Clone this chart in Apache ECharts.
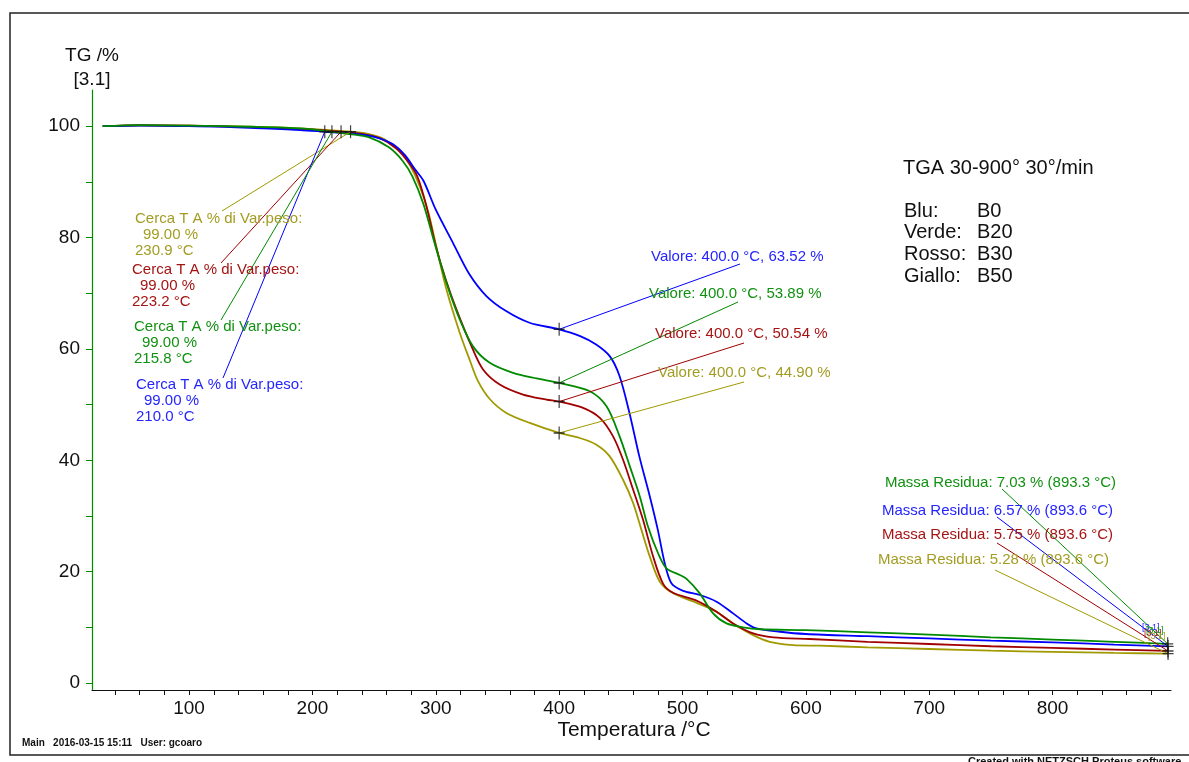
<!DOCTYPE html>
<html>
<head>
<meta charset="utf-8">
<script src="https://cdn.jsdelivr.net/npm/echarts@6/dist/echarts.min.js"></script>
<style>
html,body{margin:0;padding:0;background:#fff;}
#chart{width:1189px;height:762px;}
</style>
</head>
<body>
<div id="chart"></div>
<script>
// ---- data ----
const blueT = [30, 60, 100, 130, 160, 190, 210, 230, 250, 265, 275, 283, 290, 300, 314, 327, 341, 357, 376, 400, 417, 430, 441, 449, 457, 465, 473.5, 480, 485.6, 491, 500, 514, 527.6, 541, 552, 560, 579, 600, 650, 700, 750, 800, 850, 893.6];
const blueW = [100.0, 100.1, 100.0, 99.9, 99.6, 99.3, 99.0, 98.7, 98.1, 96.8, 94.8, 92.3, 90.2, 85.0, 79.0, 73.5, 69.5, 66.8, 64.7, 63.52, 62.3, 60.8, 58.7, 55.1, 48.5, 40.7, 33.5, 27.5, 21.5, 17.9, 16.6, 15.8, 14.6, 12.5, 10.7, 9.8, 9.2, 8.8, 8.4, 8.0, 7.6, 7.3, 6.9, 6.57];

const greenT = [30, 60, 100, 150, 190, 215.8, 230, 246, 262, 273, 281, 290, 299, 308.6, 319.4, 330, 343.7, 362.6, 381.6, 400, 424.8, 438.4, 449, 457.3, 465.4, 472, 480.2, 487, 497.8, 503.3, 514, 524.8, 535.7, 549, 563, 600, 650, 700, 750, 800, 850, 893.3];
const greenW = [100.0, 100.2, 100.1, 99.9, 99.6, 99.0, 98.6, 98.0, 96.2, 93.8, 91.0, 86.0, 79.0, 71.9, 65.3, 60.5, 57.5, 55.7, 54.7, 53.89, 52.4, 49.7, 44.3, 38.9, 33.5, 28.1, 23.3, 20.6, 19.4, 18.7, 16.1, 12.5, 10.7, 10.0, 9.65, 9.5, 9.1, 8.7, 8.2, 7.8, 7.4, 7.03];

const redT = [30, 60, 100, 150, 190, 223.2, 240, 255, 268, 278, 285, 292, 300, 308, 316.7, 328.9, 338.3, 351.8, 370.7, 389.7, 400, 419.4, 433, 443.7, 451.8, 460, 468, 476.2, 484.3, 492.4, 511.4, 527.6, 541, 557.3, 573.5, 603, 650, 700, 750, 800, 850, 893.6];
const redW = [100.0, 100.2, 100.1, 99.8, 99.5, 99.0, 98.6, 97.8, 96.0, 93.5, 91.0, 86.0, 78.5, 72.5, 67.1, 60.5, 56.3, 53.6, 51.8, 50.9, 50.54, 49.4, 47.6, 44.3, 40.1, 34.7, 29.3, 22.7, 17.8, 16.2, 14.8, 12.8, 10.7, 8.9, 8.2, 7.9, 7.4, 7.0, 6.6, 6.3, 6.0, 5.75];

const yellowT = [30, 60, 100, 150, 190, 230.9, 245, 258, 270, 279, 287, 294, 300, 308.6, 319.4, 327.5, 334, 343.7, 357.2, 376.2, 400, 416.7, 430.2, 441, 451.8, 460, 466.7, 473.5, 481.6, 492.4, 511.4, 527.6, 541, 557.3, 570.8, 589.7, 611, 650, 700, 750, 800, 850, 893.6];
const yellowW = [100.0, 100.1, 100.1, 99.9, 99.6, 99.0, 98.6, 97.7, 95.8, 93.0, 89.2, 84.5, 78.8, 70.7, 62.9, 58.0, 54.3, 51.0, 48.5, 46.7, 44.90, 44.0, 42.8, 40.7, 36.5, 32.3, 27.5, 22.7, 18.2, 16.1, 14.4, 12.8, 10.7, 8.6, 7.4, 6.8, 6.7, 6.4, 6.1, 5.8, 5.6, 5.4, 5.28];

// annotation values: order blue, green, red, yellow
const onsetTemps = [210.0, 215.8, 223.2, 230.9];
const onsetMass = 99.00;
const value400 = [63.52, 53.89, 50.54, 44.90];
const residueMass = [6.57, 7.03, 5.75, 5.28];
const residueTemp = [893.6, 893.3, 893.6, 893.6];

const xTickLabels = [100, 200, 300, 400, 500, 600, 700, 800];
const yTickLabels = [0, 20, 40, 60, 80, 100];
const legendRows = [['Blu:', 'B0'], ['Verde:', 'B20'], ['Rosso:', 'B30'], ['Giallo:', 'B50']];

// ---- styles / positions ----
const FONT = "'Liberation Sans', Arial, sans-serif";
const lineCol = ['#0000ff', '#008a00', '#a00000', '#a09a00'];
const textCol = ['#2424ff', '#119111', '#a51414', '#a39c22'];
const seriesT = [blueT, greenT, redT, yellowT];
const seriesW = [blueW, greenW, redW, yellowW];
const names = ['B0', 'B20', 'B30', 'B50'];

// annotation anchor positions (pixels)
const onsetText = [[136, 385], [134, 327], [132, 270], [135, 219]];
const onsetAnchor = [[223, 378], [221, 320], [221, 263], [222, 211]];
const v400Text = [[651, 257], [649, 294], [655, 334], [658, 373]];
const v400Anchor = [[740, 264], [738, 302], [744, 343], [744, 382]];
const resText = [[882, 511], [885, 483], [882, 535], [878, 560]];
const resAnchor = [[997, 517], [1002, 489], [997, 543], [995, 570]];

function range(a, b, s) { const r = []; for (let v = a; v <= b + 1e-9; v += s) r.push(v); return r; }

const chart = echarts.init(document.getElementById('chart'));

const series = [];
const drawOrder = [3, 2, 0, 1];
drawOrder.forEach(i => {
  const idx = seriesT[i];
  series.push({
    name: names[i],
    type: 'line',
    data: idx.map((t, k) => [t, seriesW[i][k]]),
    showSymbol: false,
    smooth: 0.3,
    lineStyle: { color: lineCol[i], width: 1.8 },
    itemStyle: { color: lineCol[i] },
    z: 3,
    markLine: {
      silent: true,
      symbol: ['none', 'none'],
      label: { show: false },
      lineStyle: { color: lineCol[i], width: 1, type: 'solid' },
      data: [
        [{ coord: [onsetTemps[i], onsetMass] }, { x: onsetAnchor[i][0], y: onsetAnchor[i][1] }],
        [{ coord: [400, value400[i]] }, { x: v400Anchor[i][0], y: v400Anchor[i][1] }],
        [{ coord: [residueTemp[i], residueMass[i]] }, { x: resAnchor[i][0], y: resAnchor[i][1] }]
      ],
      animation: false
    }
  });
});

// cross markers
const crossPts = [];
for (let i = 0; i < 4; i++) {
  crossPts.push([onsetTemps[i], onsetMass]);
  crossPts.push([400, value400[i]]);
  crossPts.push([residueTemp[i], residueMass[i]]);
}
series.push({
  type: 'scatter',
  data: crossPts,
  symbol: 'path://M5,0L5,10M0,5L10,5',
  symbolSize: [11, 13],
  itemStyle: { color: 'none', borderColor: '#111', borderWidth: 1.3 },
  z: 5,
  silent: true
});

const graphics = [];
// frame
graphics.push({ type: 'rect', shape: { x: 10, y: 13, width: 1190, height: 742 }, style: { fill: 'none', stroke: '#222', lineWidth: 1.5 }, z: 0 });
function txt(x, y, s, col, size, extra) {
  graphics.push({ type: 'text', x: x, y: y, z: 10,
    style: Object.assign({ text: s, fill: col, fontSize: size, fontFamily: FONT, align: 'left', verticalAlign: 'middle' }, extra || {}) });
}
// axis titles
txt(92, 56, 'TG /%', '#111', 19, { align: 'center' });
txt(92, 80, '[3.1]', '#111', 19, { align: 'center' });
txt(634, 730, 'Temperatura /°C', '#111', 21, { align: 'center' });
// info box
txt(903, 168, 'TGA 30-900° 30°/min', '#111', 20);
legendRows.forEach((r, k) => {
  txt(904, 211 + k * 21.7, r[0], '#111', 20);
  txt(977, 211 + k * 21.7, r[1], '#111', 20);
});
// annotations
const AF = 15;
for (let i = 0; i < 4; i++) {
  const [ox, oy] = onsetText[i];
  txt(ox, oy, 'Cerca T A % di Var.peso:', textCol[i], AF);
  txt(ox + 8, oy + 16, onsetMass.toFixed(2) + ' %', textCol[i], AF);
  txt(ox, oy + 32, onsetTemps[i].toFixed(1) + ' °C', textCol[i], AF);
  const [vx, vy] = v400Text[i];
  txt(vx, vy, 'Valore: 400.0 °C, ' + value400[i].toFixed(2) + ' %', textCol[i], AF);
  const [rx, ry] = resText[i];
  txt(rx, ry, 'Massa Residua: ' + residueMass[i].toFixed(2) + ' % (' + residueTemp[i].toFixed(1) + ' °C)', textCol[i], AF);
}
// tiny curve tags near end
[[1142, 628], [1146, 631], [1144, 634], [1148, 637]].forEach((p, k) => {
  txt(p[0], p[1], '[3.1]', textCol[k], 9);
});
// footer
txt(22, 743, 'Main   2016-03-15 15:11   User: gcoaro', '#111', 10, { fontWeight: 'bold' });
txt(968, 756, 'Created with NETZSCH Proteus software', '#111', 11, { fontWeight: 'bold', verticalAlign: 'top' });

const option = {
  animation: false,
  backgroundColor: '#fff',
  grid: { left: 92, right: 18, top: 90, bottom: 72, containLabel: false },
  xAxis: {
    type: 'value', min: 21.3, max: 896,
    axisLine: { onZero: false, lineStyle: { color: '#111', width: 1.2 } },
    axisTick: { show: true, length: 5, inside: false, customValues: range(40, 880, 20), lineStyle: { color: '#111' } },
    axisLabel: { customValues: xTickLabels, fontSize: 19, fontFamily: FONT, color: '#111', margin: 9 },
    splitLine: { show: false }
  },
  yAxis: {
    type: 'value', min: -1.26, max: 106.5,
    axisLine: { show: true, onZero: false, lineStyle: { color: '#008a00', width: 1.2 } },
    axisTick: { show: true, length: 6, inside: false, customValues: range(0, 100, 10), lineStyle: { color: '#008a00' } },
    axisLabel: { customValues: yTickLabels, fontSize: 19, fontFamily: FONT, color: '#111', margin: 12 },
    splitLine: { show: false }
  },
  series: series,
  graphic: graphics
};
chart.setOption(option);
</script>
</body>
</html>
